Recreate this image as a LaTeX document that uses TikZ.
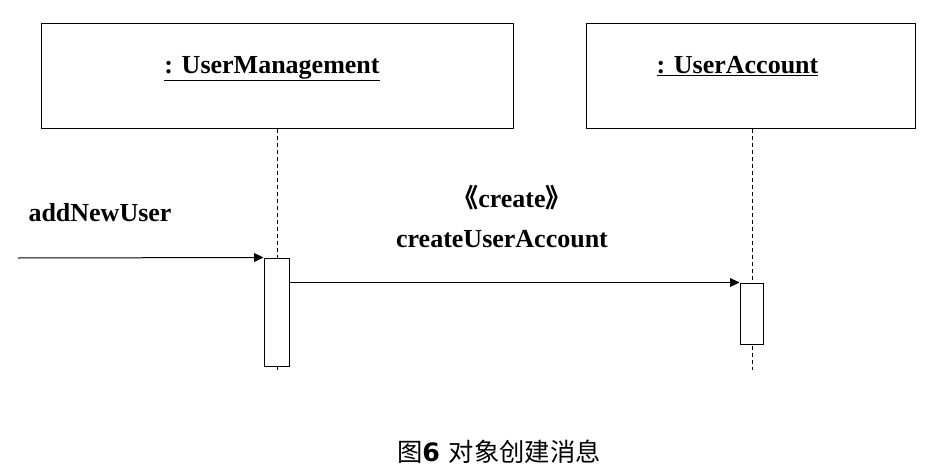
\documentclass[tikz,border=0pt]{standalone}
\usepackage{fontspec}
\setmainfont{Liberation Serif}
\newfontfamily\lbl{Liberation Serif}
\newfontfamily\cjk{Noto Sans CJK SC}
\newfontfamily\capnum{DejaVu Sans}
\usetikzlibrary{arrows.meta}
\begin{document}
\begin{tikzpicture}[x=0.75pt, y=-0.75pt, line width=0.75pt,
    >={Triangle[length=7pt,width=6.5pt]},
    font=\lbl\bfseries\fontsize{19.5}{22}\selectfont,
    objbox/.style={draw, inner sep=0pt, minimum height=78.75pt},
    actbar/.style={draw, fill=white, inner sep=0pt},
    lifeline/.style={dash pattern=on 3pt off 2.25pt},
    msg/.style={->}]
    \useasboundingbox (0,0) rectangle (946,471);
    % objects
    \node[objbox, minimum width=354pt] (um) at (277,75.5) {};
    \node[objbox, minimum width=246.75pt] (ua) at (750.5,75.5) {};
    \node[anchor=base] (umname) at (272,73) {\underline{: UserManagement}};
    \node[anchor=base] (uaname) at (737.5,73) {\underline{: UserAccount}};
    % lifelines
    \coordinate (umend) at (277,370);
    \coordinate (uaend) at (752,370);
    \draw[lifeline] (um.south -| umend) -- (umend);
    \draw[lifeline] (ua.south -| uaend) -- (uaend);
    % activations
    \node[actbar, minimum width=18.75pt, minimum height=81pt] (act1) at (276.5,312) {};
    \node[actbar, minimum width=17.25pt, minimum height=45.75pt] (act2) at (751.5,313.5) {};
    % messages
    \coordinate (caller) at (18,258);
    \draw[msg] (caller) -- (act1.north west);
    \draw[msg] (act1.east |- act2.north west) -- (act2.north west);
    \node[anchor=base] (call1) at (100,221) {addNewUser};
    \node[anchor=base] (stereo) at (512,207) {{\cjk 《}create{\cjk 》}};
    \node[anchor=base] (call2) at (502,247) {createUserAccount};
    \node[font=\cjk\fontsize{19}{22}\selectfont] (caption) at (499,452) {图{\capnum\bfseries 6}\hspace{0.35em}对象创建消息};
\end{tikzpicture}
\end{document}
